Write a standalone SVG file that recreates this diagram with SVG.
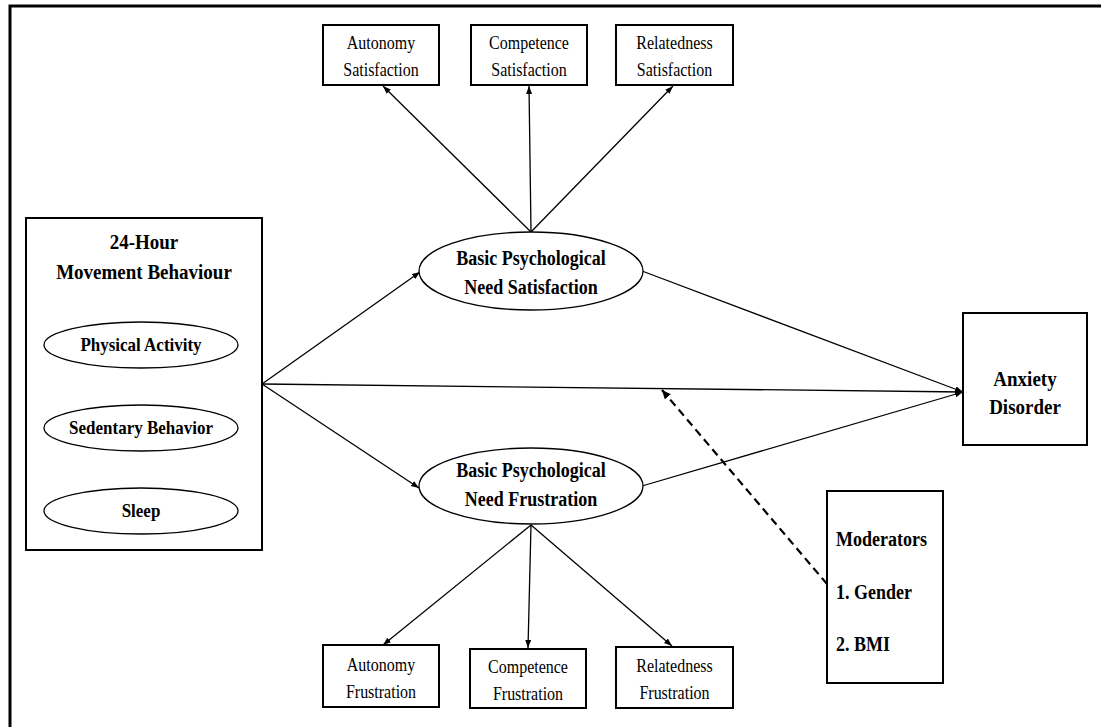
<svg xmlns="http://www.w3.org/2000/svg" width="1101" height="727" viewBox="0 0 1101 727">
<defs>
<style>
.box{fill:#fff;stroke:#000;stroke-width:2}
.ell{fill:#fff;stroke:#000;stroke-width:1.3}
.ln{fill:none;stroke:#000;stroke-width:1.3;marker-end:url(#ah)}
.dash{fill:none;stroke:#000;stroke-width:2.2;stroke-dasharray:8,5;marker-end:url(#ah2)}
text{fill:#000;text-anchor:middle}
.n{font-size:16px}
.b{font-size:18px;font-weight:bold}
.bl{font-size:17px;font-weight:bold}
.t{font-size:19px;font-weight:bold}
</style>
<marker id="ah" markerUnits="userSpaceOnUse" markerWidth="9" markerHeight="7" refX="8" refY="3" orient="auto"><path d="M0,0 L8,3 L0,6 z" fill="#000"/></marker>
<marker id="ah2" markerUnits="userSpaceOnUse" markerWidth="11" markerHeight="9" refX="9" refY="4" orient="auto"><path d="M0,0 L9,4 L0,8 z" fill="#000"/></marker>
</defs>
<rect width="1101" height="727" fill="#fff"/>
<path d="M10,727 L10,6 L1101,6" fill="none" stroke="#000" stroke-width="3"/>

<g id="connectors">
<line class="ln" x1="531" y1="232" x2="383" y2="86"/>
<line class="ln" x1="531" y1="232" x2="529" y2="86"/>
<line class="ln" x1="531" y1="232" x2="673" y2="86"/>
<line class="ln" x1="531" y1="525" x2="383" y2="645"/>
<line class="ln" x1="531" y1="525" x2="528" y2="648"/>
<line class="ln" x1="531" y1="525" x2="672" y2="646"/>
<line class="ln" x1="262" y1="384" x2="420" y2="272"/>
<line class="ln" x1="262" y1="384" x2="419" y2="488"/>
<line class="ln" x1="262" y1="384" x2="963" y2="392"/>
<line class="ln" x1="642" y1="271" x2="963" y2="392"/>
<line class="ln" x1="642" y1="486" x2="963" y2="392"/>
<line class="dash" x1="827" y1="584" x2="662" y2="390"/>
</g>

<g font-family="'Liberation Serif', 'Times New Roman', 'DejaVu Serif', serif">
<g id="autonomy-satisfaction">
<rect class="box" x="323" y="25" width="116" height="60"/>
<text class="n" transform="translate(381,49) scale(1,1.2)">Autonomy</text>
<text class="n" transform="translate(381,76) scale(1,1.2)">Satisfaction</text>
</g>
<g id="competence-satisfaction">
<rect class="box" x="471" y="25" width="116" height="60"/>
<text class="n" transform="translate(529,49) scale(1,1.2)">Competence</text>
<text class="n" transform="translate(529,76) scale(1,1.2)">Satisfaction</text>
</g>
<g id="relatedness-satisfaction">
<rect class="box" x="616" y="25" width="117" height="60"/>
<text class="n" transform="translate(674.5,49) scale(1,1.2)">Relatedness</text>
<text class="n" transform="translate(674.5,76) scale(1,1.2)">Satisfaction</text>
</g>

<g id="movement-behaviour">
<rect class="box" x="26" y="218" width="236" height="332"/>
<text class="t" transform="translate(144,249) scale(1,1.15)">24-Hour</text>
<text class="t" transform="translate(144,279) scale(1,1.15)">Movement Behaviour</text>
</g>
<g id="physical-activity">
<ellipse class="ell" cx="141" cy="345" rx="97" ry="23"/>
<text class="bl" transform="translate(141,351) scale(1,1.15)">Physical Activity</text>
</g>
<g id="sedentary-behavior">
<ellipse class="ell" cx="141" cy="428" rx="97" ry="23"/>
<text class="bl" transform="translate(141,434) scale(1,1.15)">Sedentary Behavior</text>
</g>
<g id="sleep">
<ellipse class="ell" cx="141" cy="511" rx="97" ry="23"/>
<text class="bl" transform="translate(141,517) scale(1,1.15)">Sleep</text>
</g>

<g id="need-satisfaction">
<ellipse class="ell" cx="531" cy="271" rx="112" ry="39"/>
<text class="b" transform="translate(531,265) scale(1,1.15)">Basic Psychological</text>
<text class="b" transform="translate(531,294) scale(1,1.15)">Need Satisfaction</text>
</g>
<g id="need-frustration">
<ellipse class="ell" cx="531" cy="486" rx="112" ry="38"/>
<text class="b" transform="translate(531,477) scale(1,1.15)">Basic Psychological</text>
<text class="b" transform="translate(531,506) scale(1,1.15)">Need Frustration</text>
</g>

<g id="anxiety-disorder">
<rect class="box" x="963" y="313" width="124" height="132"/>
<text class="t" transform="translate(1025,386) scale(1,1.1)">Anxiety</text>
<text class="t" transform="translate(1025,414) scale(1,1.1)">Disorder</text>
</g>

<g id="moderators">
<rect class="box" x="827" y="491" width="116" height="192"/>
<text class="b" style="text-anchor:start" transform="translate(836,546) scale(1,1.2)">Moderators</text>
<text class="b" style="text-anchor:start" transform="translate(836,599) scale(1,1.2)">1. Gender</text>
<text class="b" style="text-anchor:start" transform="translate(836,651) scale(1,1.2)">2. BMI</text>
</g>

<g id="autonomy-frustration">
<rect class="box" x="323" y="645" width="116" height="62"/>
<text class="n" transform="translate(381,671) scale(1,1.2)">Autonomy</text>
<text class="n" transform="translate(381,698) scale(1,1.2)">Frustration</text>
</g>
<g id="competence-frustration">
<rect class="box" x="470" y="649" width="116" height="59"/>
<text class="n" transform="translate(528,673) scale(1,1.2)">Competence</text>
<text class="n" transform="translate(528,700) scale(1,1.2)">Frustration</text>
</g>
<g id="relatedness-frustration">
<rect class="box" x="616" y="647" width="117" height="61"/>
<text class="n" transform="translate(674.5,672) scale(1,1.2)">Relatedness</text>
<text class="n" transform="translate(674.5,699) scale(1,1.2)">Frustration</text>
</g>
</g>
</svg>
